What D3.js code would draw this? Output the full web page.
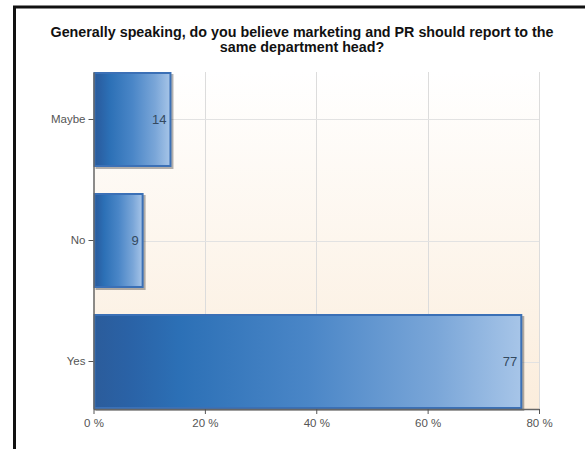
<!DOCTYPE html>
<html><head><meta charset="utf-8">
<script src="https://cdn.jsdelivr.net/npm/d3@7"></script>
<style>body{margin:0;background:#fff;}svg{display:block;font-family:Arial,"Liberation Sans",sans-serif;}</style>
</head><body>
<script>
const categories = ["Maybe", "No", "Yes"];
const values = [14, 9, 77];
const xTicks = [0, 20, 40, 60, 80];
const titleLines = ["Generally speaking, do you believe marketing and PR should report to the", "same department head?"];

(function(){
const W = 585, H = 449;
const svg = d3.select("body").append("svg").attr("width", W).attr("height", H);
const defs = svg.append("defs");

const bg = defs.append("linearGradient").attr("id","bg").attr("x1",0).attr("y1",0).attr("x2",0).attr("y2",1);
bg.append("stop").attr("offset","0%").attr("stop-color","#ffffff");
bg.append("stop").attr("offset","100%").attr("stop-color","#fbeddc");

const bar = defs.append("linearGradient").attr("id","bar").attr("x1",0).attr("y1",0).attr("x2",1).attr("y2",0);
[[0,"#2b5c9b"],[0.08,"#2a62a6"],[0.2,"#2c70b6"],[0.5,"#4a86c7"],[0.8,"#7aa6d8"],[1,"#a7c5e8"]].forEach(([o,c])=>
  bar.append("stop").attr("offset",o).attr("stop-color",c));

// outer frame
svg.append("rect").attr("x",14.5).attr("y",7).attr("width",W).attr("height",H)
  .attr("fill","none").attr("stroke","#111").attr("stroke-width",3);

const pL = 93.5, pR = 539, pT = 72, pB = 409;
const x = d3.scaleLinear().domain([0,80]).range([pL,pR]);
const y = d3.scaleBand().domain(categories).range([pT,pB]).paddingInner(0.215).paddingOuter(0);

svg.append("rect").attr("x",pL).attr("y",pT).attr("width",pR-pL).attr("height",pB-pT).attr("fill","url(#bg)");

// grid
svg.append("g").selectAll("line").data(xTicks.slice(1)).join("line")
  .attr("x1",d=>Math.round(x(d))+0.5).attr("x2",d=>Math.round(x(d))+0.5)
  .attr("y1",pT).attr("y2",pB).attr("stroke","#dcdcdc");
svg.append("g").selectAll("line").data(categories).join("line")
  .attr("x1",pL).attr("x2",pR)
  .attr("y1",d=>Math.round(y(d)+y.bandwidth()/2)+0.5).attr("y2",d=>Math.round(y(d)+y.bandwidth()/2)+0.5)
  .attr("stroke","#e2e2e2");

// title
const t = svg.append("text").attr("text-anchor","middle").attr("font-weight","bold").attr("font-size",14.3).attr("fill","#111");
titleLines.forEach((s,i)=>t.append("tspan").attr("x",302).attr("y",37+i*14.5).text(s));

// bars
const data = categories.map((c,i)=>({c, v: values[i]}));
const g = svg.append("g");
g.selectAll("rect.sh").data(data).join("rect").attr("class","sh")
  .attr("x",x(0)+2).attr("y",d=>y(d.c)+2).attr("width",d=>x(d.v)-x(0)).attr("height",y.bandwidth())
  .attr("fill","#000").attr("opacity",0.3);
g.selectAll("rect.b").data(data).join("rect").attr("class","b")
  .attr("x",x(0)+1).attr("y",d=>y(d.c)+1).attr("width",d=>x(d.v)-x(0)-2).attr("height",y.bandwidth()-2)
  .attr("fill","url(#bar)").attr("stroke","#3b70b6").attr("stroke-width",2);
g.selectAll("text").data(data).join("text")
  .attr("x",d=>x(d.v)-5).attr("y",d=>y(d.c)+y.bandwidth()/2+4.5)
  .attr("text-anchor","end").attr("font-size",13).attr("fill","#34495f").text(d=>d.v);

// axes
const ax = svg.append("g").attr("transform",`translate(0,${pB})`)
  .call(d3.axisBottom(x).tickValues(xTicks).tickSize(5).tickSizeOuter(0).tickFormat(d=>d+" %"));
const ay = svg.append("g").attr("transform",`translate(${pL},0)`)
  .call(d3.axisLeft(y).tickSize(5).tickSizeOuter(0).tickPadding(3));
[ax,ay].forEach(a=>{
  a.select(".domain").attr("stroke","#666").attr("stroke-width",1.5);
  a.selectAll(".tick line").attr("stroke","#555");
  a.selectAll("text").attr("fill","#555").attr("font-size",11.5).attr("font-family","Arial, 'Liberation Sans', sans-serif");
});
ax.selectAll("text").attr("dy","0.85em");
})();
</script>
</body></html>
